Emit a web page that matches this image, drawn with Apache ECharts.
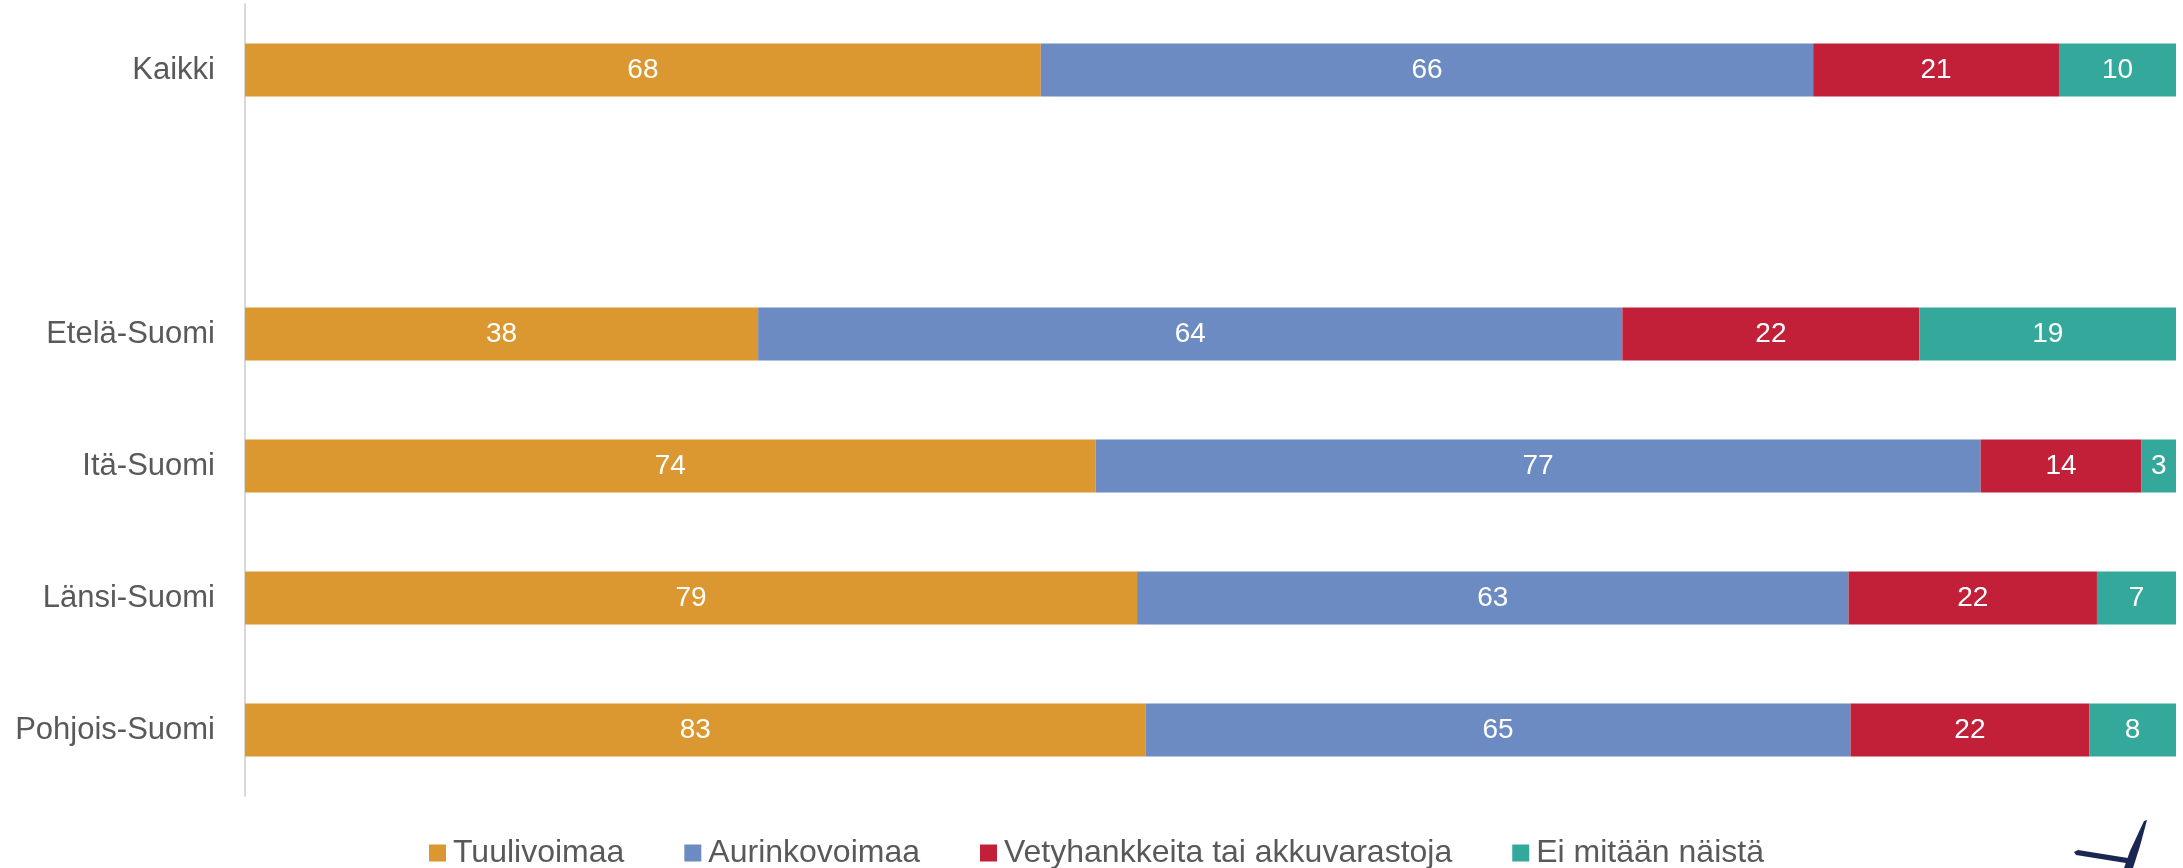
<!DOCTYPE html>
<html>
<head>
<meta charset="utf-8">
<script src="https://cdn.jsdelivr.net/npm/echarts@6/dist/echarts.min.js"></script>
<style>
  html, body { margin: 0; padding: 0; background: #fff; }
  #chart { width: 2183px; height: 868px; }
</style>
</head>
<body>
<div id="chart"></div>
<script>
// categories top to bottom; '' is the spacer row between Kaikki and the regions
const categories = ['Kaikki', '', 'Etelä-Suomi', 'Itä-Suomi', 'Länsi-Suomi', 'Pohjois-Suomi']
const seriesNames = ['Tuulivoimaa', 'Aurinkovoimaa', 'Vetyhankkeita tai akkuvarastoja', 'Ei mitään näistä']
const colors = ['#DB9730', '#6B8BC2', '#C21F38', '#34A89B']

const tuulivoimaa = [68, null, 38, 74, 79, 83]
const aurinkovoimaa = [66, null, 64, 77, 63, 65]
const vety = [21, null, 22, 14, 22, 22]
const eiMitaan = [10, null, 19, 3, 7, 8]

const raw = [tuulivoimaa, aurinkovoimaa, vety, eiMitaan]

// bars fill the full width: each segment is its share of the row total
const totals = categories.map((_, i) => raw.reduce((s, arr) => s + (arr[i] || 0), 0))

const chart = echarts.init(document.getElementById('chart'))

chart.setOption({
  animation: false,
  textStyle: { fontFamily: 'Liberation Sans, Arial, sans-serif' },
  grid: { left: 245, right: 7, top: 4, bottom: 72 },
  legend: {
    top: 832, left: 424,
    itemWidth: 17, itemHeight: 17, itemGap: 60,
    icon: 'rect',
    textStyle: { color: '#595959', fontSize: 32, padding: [0, 0, 0, 2] },
    data: seriesNames
  },
  xAxis: {
    type: 'value', min: 0, max: 1, show: false
  },
  yAxis: {
    type: 'category', inverse: true, data: categories,
    axisLine: { show: true, lineStyle: { color: '#D9D9D9', width: 2 } },
    axisTick: { show: false },
    axisLabel: { color: '#595959', fontSize: 31, margin: 30 }
  },
  series: raw.map((arr, k) => ({
    name: seriesNames[k], type: 'bar', stack: 'all',
    barWidth: '40%',
    itemStyle: { color: colors[k] },
    data: arr.map((v, i) => v == null ? '-' : v / totals[i]),
    label: {
      show: true, position: 'inside', color: '#fff', fontSize: 28,
      formatter: (p) => arr[p.dataIndex]
    }
  })),
  graphic: [
    {
      type: 'polygon', silent: true,
      shape: { points: [[2074, 852], [2078, 850], [2134, 859], [2132, 864], [2076, 855]] },
      style: { fill: '#1A2753' }
    },
    {
      type: 'polygon', silent: true,
      shape: { points: [[2124, 868], [2130, 851], [2144, 821], [2147, 820], [2140, 846], [2133, 868]] },
      style: { fill: '#1A2753' }
    }
  ]
})
</script>
</body>
</html>
